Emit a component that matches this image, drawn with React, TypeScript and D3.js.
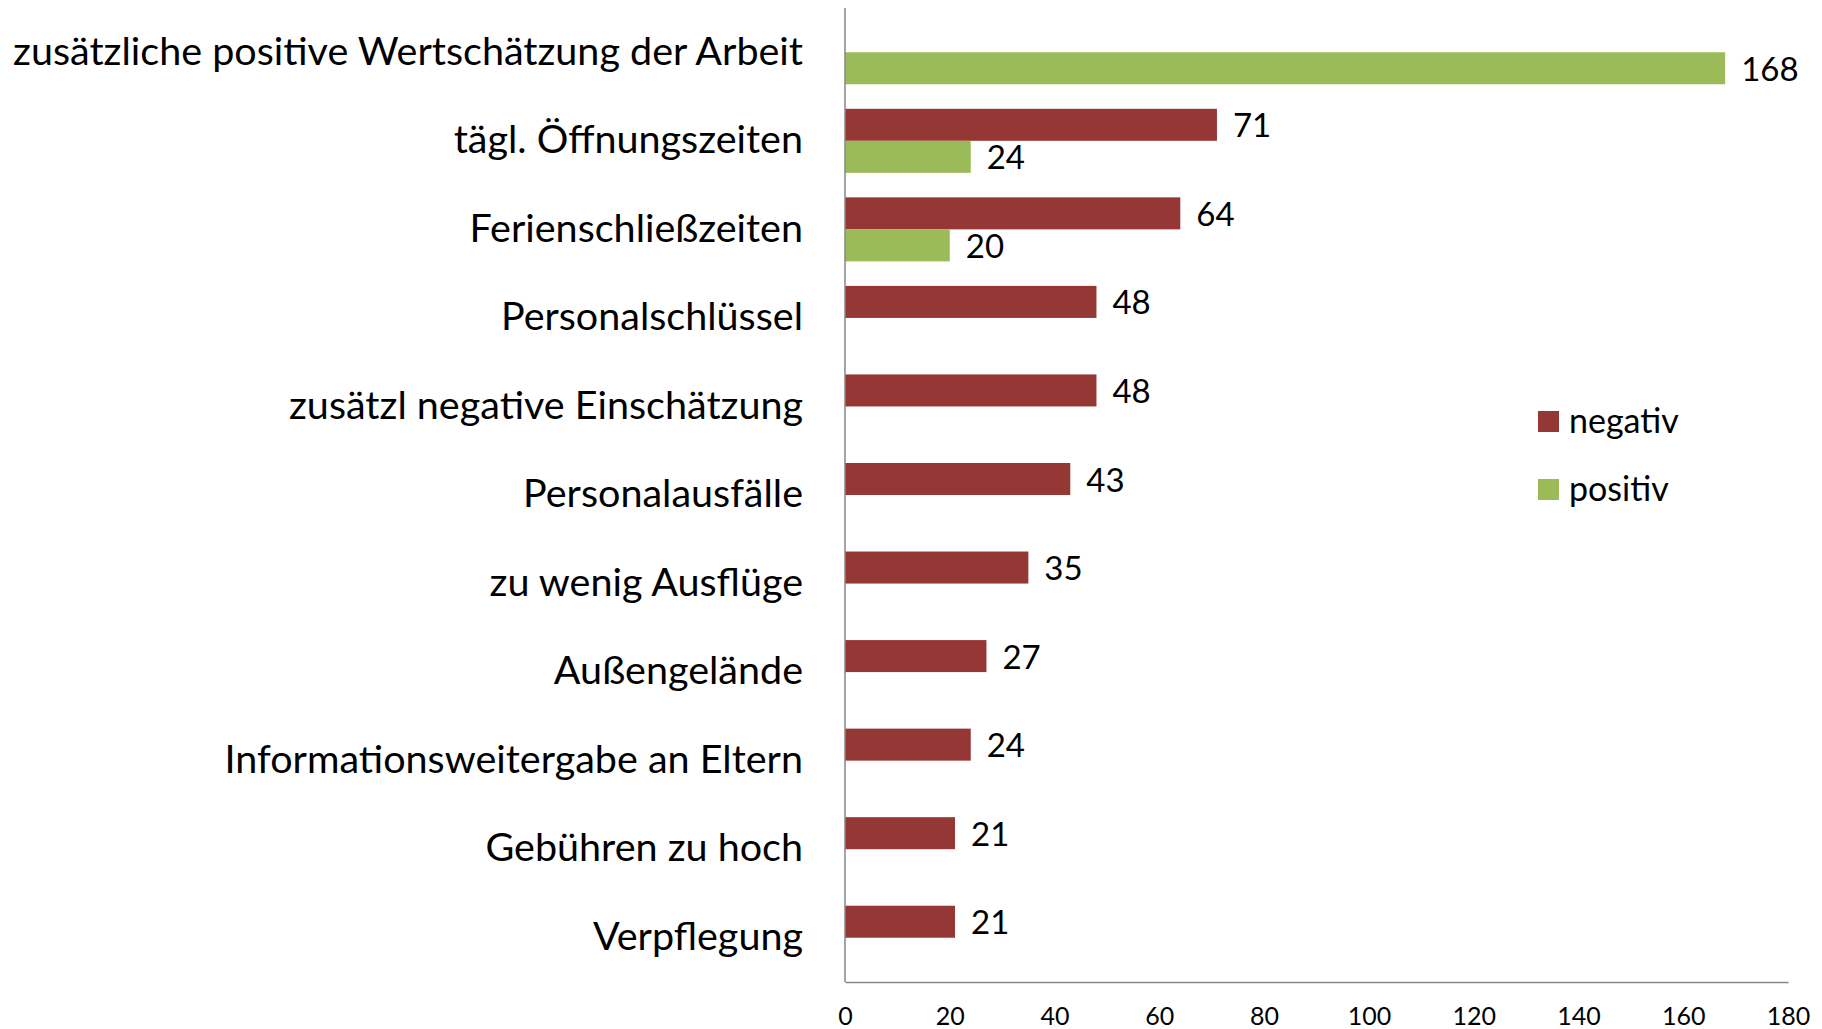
import { useRef, useEffect } from "react";
import * as d3 from "d3";

const categories = [
  "zusätzliche positive Wertschätzung der Arbeit",
  "tägl. Öffnungszeiten",
  "Ferienschließzeiten",
  "Personalschlüssel",
  "zusätzl negative Einschätzung",
  "Personalausfälle",
  "zu wenig Ausflüge",
  "Außengelände",
  "Informationsweitergabe an Eltern",
  "Gebühren zu hoch",
  "Verpflegung",
];

const negativValues = [null, 71, 64, 48, 48, 43, 35, 27, 24, 21, 21];
const positivValues = [168, 24, 20, null, null, null, null, null, null, null, null];

const seriesNames = ["negativ", "positiv"];
const seriesColors = ["#953735", "#9BBB59"];
const xTicks = [0, 20, 40, 60, 80, 100, 120, 140, 160, 180];

const width = 1822;
const height = 1029;
const margin = { top: 8, right: 34, bottom: 47, left: 845 };
const font = "Lato, Carlito, Calibri, sans-serif";

const App = () => {
  const svgRef = useRef<SVGSVGElement>(null);

  useEffect(() => {
    const svg = d3.select(svgRef.current);
    svg.selectAll("*").remove();

    const x = d3
      .scaleLinear()
      .domain([0, 180])
      .range([margin.left, width - margin.right]);

    const y = d3
      .scaleBand()
      .domain(categories)
      .range([margin.top, height - margin.bottom])
      .paddingInner(0.277)
      .paddingOuter(0.1385);

    const ySub = d3
      .scaleBand()
      .domain(seriesNames)
      .range([0, y.bandwidth()]);

    const rows = categories.map((c, i) => ({
      category: c,
      values: [negativValues[i], positivValues[i]],
    }));

    const groups = svg
      .append("g")
      .selectAll("g")
      .data(rows)
      .enter()
      .append("g")
      .attr("transform", (d) => `translate(0,${y(d.category)})`);

    seriesNames.forEach((s, si) => {
      const withValue = groups.filter((d) => d.values[si] != null);
      withValue
        .append("rect")
        .attr("x", x(0))
        .attr("y", ySub(s))
        .attr("width", (d) => x(d.values[si]) - x(0))
        .attr("height", ySub.bandwidth())
        .attr("fill", seriesColors[si]);
      withValue
        .append("text")
        .attr("x", (d) => x(d.values[si]) + 16)
        .attr("y", ySub(s) + ySub.bandwidth() / 2)
        .attr("dy", "0.38em")
        .attr("font-family", font)
        .attr("font-size", 33)
        .attr("fill", "#000")
        .text((d) => d.values[si]);
    });

    // category labels
    const yAxis = svg
      .append("g")
      .attr("transform", `translate(${margin.left},0)`)
      .call(d3.axisLeft(y).tickSize(0).tickPadding(42));
    yAxis.select(".domain").remove();
    yAxis
      .selectAll("text")
      .attr("font-family", font)
      .attr("font-size", 39.5)
      .attr("fill", "#000")
      .attr("dy", "0.31em");

    // bottom axis
    const xAxis = svg
      .append("g")
      .attr("transform", `translate(0,${height - margin.bottom})`)
      .call(d3.axisBottom(x).tickValues(xTicks).tickSize(0).tickSizeOuter(0));
    xAxis.select(".domain").attr("stroke", "#868686").attr("stroke-width", 1.5);
    xAxis
      .selectAll("text")
      .attr("font-family", font)
      .attr("font-size", 25)
      .attr("fill", "#000")
      .attr("y", 43)
      .attr("dy", null);

    svg
      .append("line")
      .attr("x1", margin.left)
      .attr("x2", margin.left)
      .attr("y1", margin.top)
      .attr("y2", height - margin.bottom)
      .attr("stroke", "#868686")
      .attr("stroke-width", 1.5);

    // legend
    const legend = svg
      .append("g")
      .selectAll("g")
      .data(seriesNames)
      .enter()
      .append("g")
      .attr("transform", (d, i) => `translate(1538,${411 + i * 68})`);
    legend
      .append("rect")
      .attr("width", 21)
      .attr("height", 21)
      .attr("fill", (d, i) => seriesColors[i]);
    legend
      .append("text")
      .attr("x", 31)
      .attr("y", 22)
      .attr("font-family", font)
      .attr("font-size", 34)
      .attr("fill", "#000")
      .text((d) => d);
  }, []);

  return (
    <svg
      ref={svgRef}
      width={width}
      height={height}
      style={{ position: "absolute", left: 0, top: 0, background: "#fff" }}
    ></svg>
  );
};

export default App;
